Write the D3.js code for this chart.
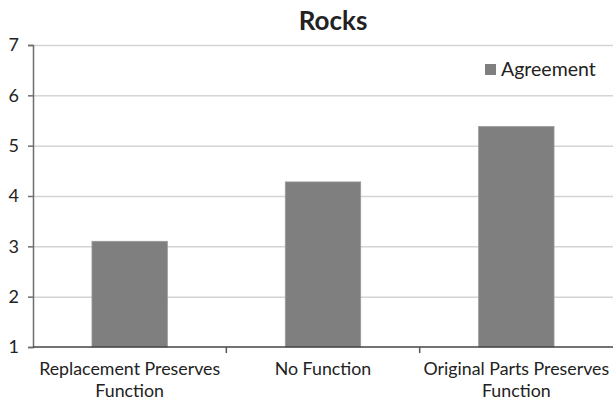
<!DOCTYPE html>
<html>
<head>
<meta charset="utf-8">
<script src="https://cdn.jsdelivr.net/npm/d3@7"></script>
<style>
  body { margin: 0; background: #fff; }
  text { font-family: Lato, "Open Sans", sans-serif; fill: #222; }
</style>
</head>
<body>
<div id="container"></div>
<script>
// chart values
const categories = [["Replacement Preserves", "Function"], ["No Function"], ["Original Parts Preserves", "Function"]];
const agreement = [3.1, 4.28, 5.38];
const yTicks = [1, 2, 3, 4, 5, 6, 7];
const seriesName = "Agreement";
const title = "Rocks";

const width = 613, height = 401;
const marginLeft = 33, marginRight = 0, marginTop = 45, marginBottom = 54;

const svg = d3.select("#container").append("svg")
    .attr("width", width)
    .attr("height", height);

const x = d3.scaleBand()
    .domain(d3.range(categories.length))
    .range([marginLeft, width - marginRight])
    .paddingInner(0.61)
    .paddingOuter(0.305);

const y = d3.scaleLinear()
    .domain([1, 7])
    .range([height - marginBottom, marginTop]);

// gridlines
svg.append("g").selectAll("line").data(yTicks.slice(1)).enter().append("line")
    .attr("x1", marginLeft).attr("x2", width - marginRight)
    .attr("y1", d => y(d) + 0.5).attr("y2", d => y(d) + 0.5)
    .attr("stroke", "#d4d4d4").attr("stroke-width", 1.5);

// bars
svg.append("g").selectAll("rect").data(agreement).enter().append("rect")
    .attr("x", (d, i) => x(i))
    .attr("width", x.bandwidth())
    .attr("y", d => y(d))
    .attr("height", d => y(1) - y(d))
    .attr("fill", "#7f7f7f")
    .attr("stroke", "#9a9a9a")
    .attr("stroke-width", 0.8);

// y axis
const yAxis = svg.append("g")
    .attr("transform", `translate(${marginLeft},0)`)
    .call(d3.axisLeft(y).tickValues(yTicks).tickSize(5).tickPadding(9).tickFormat(d3.format("d")));
yAxis.select(".domain").attr("stroke", "#6e6e6e").attr("stroke-width", 1.5);
yAxis.selectAll(".tick line").attr("stroke", "#6e6e6e").attr("stroke-width", 1.5);
yAxis.selectAll(".tick text").attr("font-size", 18).style("font-family", "Lato, sans-serif").attr("fill", "#222");

// x axis with ticks between categories
const bounds = d3.range(categories.length + 1).map(i => marginLeft + i * (width - marginRight - marginLeft) / categories.length);
svg.append("line")
    .attr("x1", marginLeft).attr("x2", width - marginRight)
    .attr("y1", y(1)).attr("y2", y(1))
    .attr("stroke", "#444").attr("stroke-width", 1.5);
svg.append("g").selectAll("line").data(bounds.slice(1, -1)).enter().append("line")
    .attr("x1", d => d).attr("x2", d => d)
    .attr("y1", y(1)).attr("y2", y(1) + 6)
    .attr("stroke", "#555").attr("stroke-width", 1.5);

// category labels
const lab = svg.append("g").selectAll("text").data(categories).enter().append("text")
    .attr("x", (d, i) => x(i) + x.bandwidth() / 2)
    .attr("y", y(1) + 28)
    .attr("text-anchor", "middle")
    .attr("font-size", 17.8);
lab.each(function(d) {
  d3.select(this).selectAll("tspan").data(d).enter().append("tspan")
      .attr("x", d3.select(this).attr("x"))
      .attr("dy", (t, j) => j === 0 ? 0 : 22)
      .text(t => t);
});

// title
svg.append("text")
    .attr("x", 333)
    .attr("y", 30)
    .attr("text-anchor", "middle")
    .attr("font-size", 26)
    .attr("font-weight", "bold")
    .text(title);

// legend
const leg = svg.append("g").attr("transform", "translate(485,64)");
leg.append("rect").attr("width", 11).attr("height", 11).attr("fill", "#7f7f7f");
leg.append("text").attr("x", 16).attr("y", 12).attr("font-size", 19.5).text(seriesName);
</script>
</body>
</html>
